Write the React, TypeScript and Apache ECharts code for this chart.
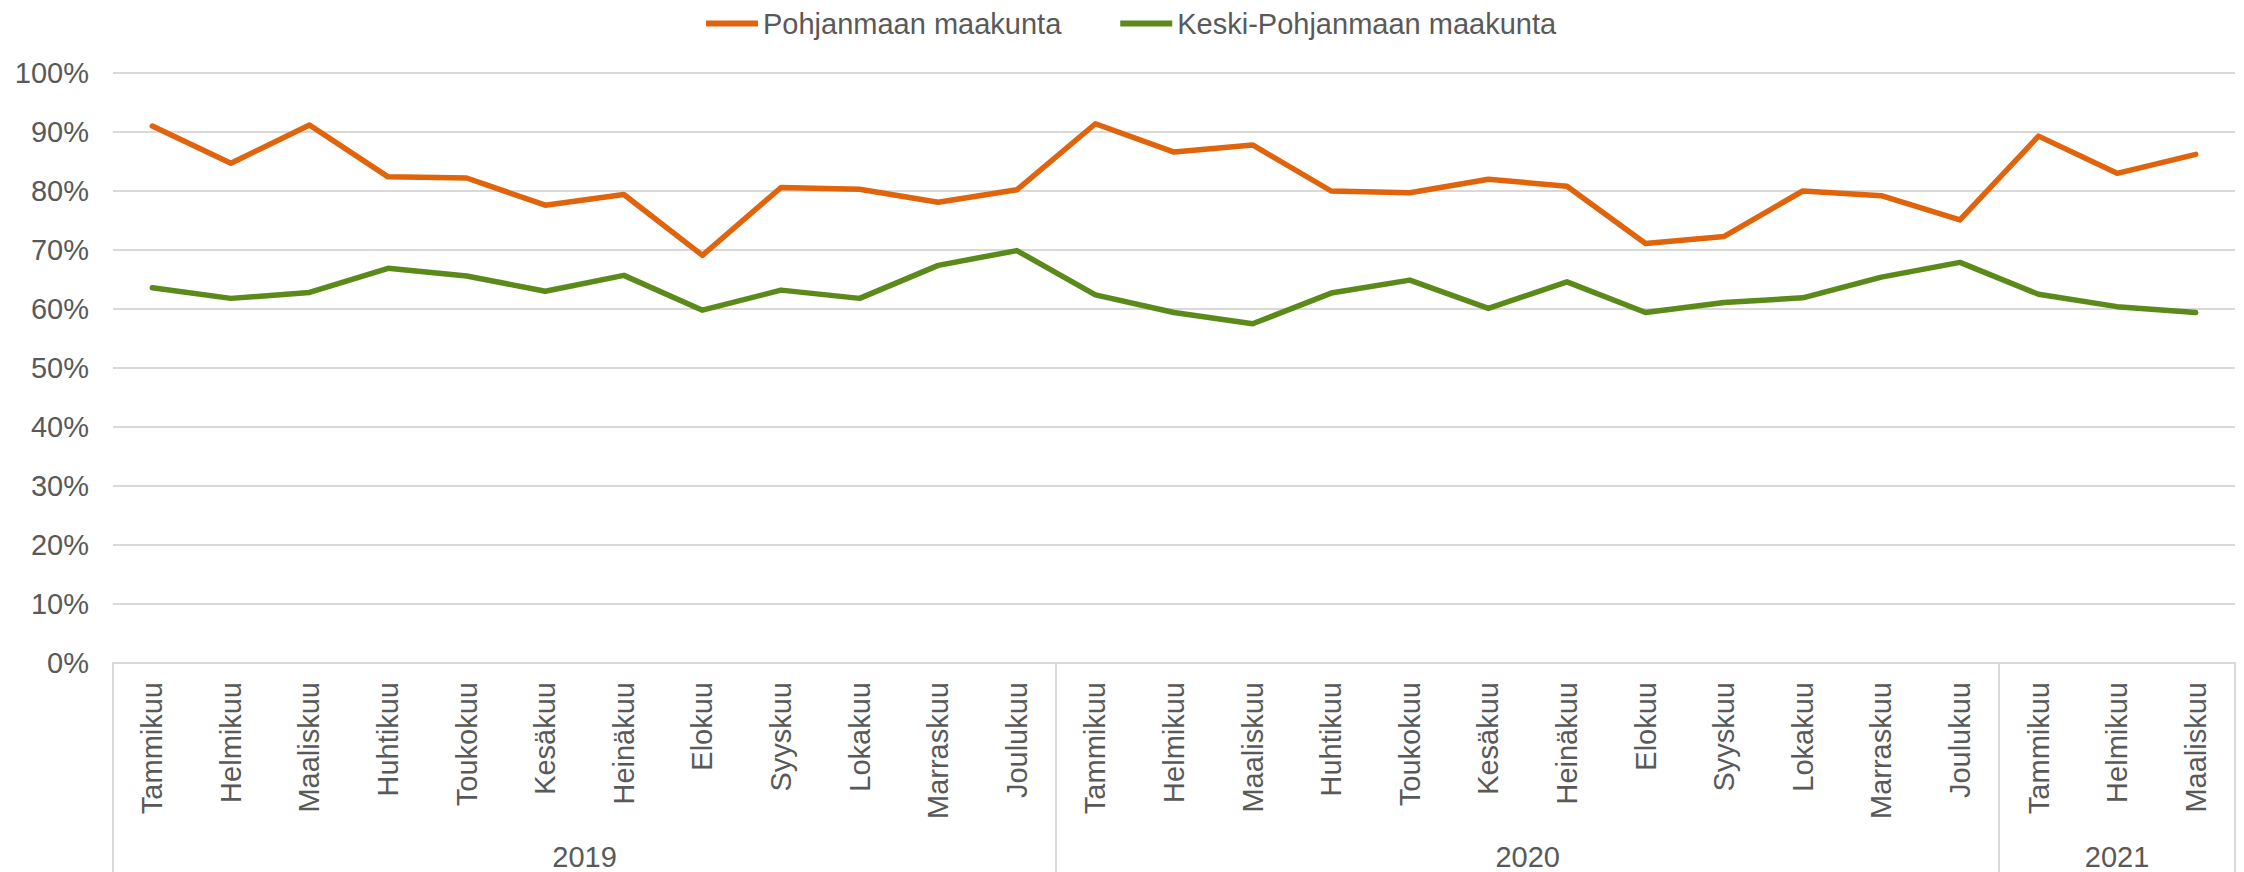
import React, { useEffect, useRef } from "react";
import * as echarts from "echarts";

const months = [
  "Tammikuu", "Helmikuu", "Maaliskuu", "Huhtikuu", "Toukokuu", "Kesäkuu",
  "Heinäkuu", "Elokuu", "Syyskuu", "Lokakuu", "Marraskuu", "Joulukuu",
  "Tammikuu", "Helmikuu", "Maaliskuu", "Huhtikuu", "Toukokuu", "Kesäkuu",
  "Heinäkuu", "Elokuu", "Syyskuu", "Lokakuu", "Marraskuu", "Joulukuu",
  "Tammikuu", "Helmikuu", "Maaliskuu",
];
const years = ["2019", "2020", "2021"];
const yearStarts = [0, 12, 24, 27];
const yearCenters = [6, 18, 25.5];

const seriesNames = ["Pohjanmaan maakunta", "Keski-Pohjanmaan maakunta"];
const pohjanmaa = [
  91.0, 84.7, 91.2, 82.4, 82.2, 77.6, 79.4, 69.1, 80.6, 80.3, 78.1, 80.2,
  91.4, 86.6, 87.8, 80.0, 79.7, 82.0, 80.8, 71.1, 72.3, 80.0, 79.2, 75.1,
  89.3, 83.0, 86.2,
];
const keskiPohjanmaa = [
  63.6, 61.8, 62.8, 66.9, 65.6, 63.0, 65.7, 59.8, 63.2, 61.8, 67.4, 69.9,
  62.4, 59.4, 57.5, 62.7, 64.9, 60.1, 64.6, 59.4, 61.1, 61.9, 65.4, 67.9,
  62.5, 60.4, 59.4,
];

const FONT = "Liberation Sans, Arial, sans-serif";
const TEXT = "#595959";
const GRID = "#d9d9d9";

export default function App() {
  const ref = useRef<HTMLDivElement>(null);
  useEffect(() => {
    if (!ref.current) return;
    const chart = echarts.init(ref.current, undefined, { renderer: "svg" });
    chart.setOption({
      animation: false,
      textStyle: { fontFamily: FONT },
      color: ["#E0640C", "#5B8A1A"],
      legend: {
        top: 4,
        left: 701,
        icon: "rect",
        itemWidth: 52,
        itemHeight: 6,
        itemGap: 59,
        textStyle: { fontSize: 29, color: TEXT, fontFamily: FONT },
        data: seriesNames,
      },
      grid: { left: 113, right: 9, top: 73, bottom: 209, containLabel: false },
      xAxis: [
        {
          type: "category",
          data: months,
          boundaryGap: true,
          axisLine: { show: true, lineStyle: { color: GRID, width: 2 } },
          axisTick: { show: false },
          axisLabel: {
            rotate: 90,
            interval: 0,
            margin: 19,
            fontSize: 29,
            color: TEXT,
            fontFamily: FONT,
          },
        },
        {
          type: "value",
          position: "bottom",
          min: 0,
          max: 27,
          splitLine: { show: false },
          axisLine: { show: false },
          axisTick: {
            show: true,
            length: 209,
            customValues: yearStarts,
            lineStyle: { color: GRID, width: 2 },
          },
          axisLabel: {
            show: true,
            customValues: yearCenters,
            margin: 179,
            fontSize: 29,
            color: TEXT,
            fontFamily: FONT,
            formatter: (v: number) => {
              const i = yearCenters.indexOf(v);
              return i >= 0 ? years[i] : "";
            },
          },
        },
      ],
      yAxis: {
        type: "value",
        min: 0,
        max: 100,
        interval: 10,
        axisLine: { show: false },
        axisTick: { show: false },
        splitLine: { lineStyle: { color: GRID, width: 2 } },
        axisLabel: {
          formatter: "{value}%",
          fontSize: 29,
          color: TEXT,
          margin: 24,
          fontFamily: FONT,
        },
      },
      series: [
        {
          name: seriesNames[0],
          type: "line",
          xAxisIndex: 0,
          data: pohjanmaa,
          symbol: "none",
          lineStyle: { width: 5.5, color: "#E0640C", cap: "round", join: "round" },
        },
        {
          name: seriesNames[1],
          type: "line",
          xAxisIndex: 0,
          data: keskiPohjanmaa,
          symbol: "none",
          lineStyle: { width: 5.5, color: "#5B8A1A", cap: "round", join: "round" },
        },
      ],
    });
    return () => chart.dispose();
  }, []);
  return (
    <div
      ref={ref}
      style={{ position: "fixed", left: 0, top: 0, width: 2244, height: 872, background: "#fff" }}
    />
  );
}
